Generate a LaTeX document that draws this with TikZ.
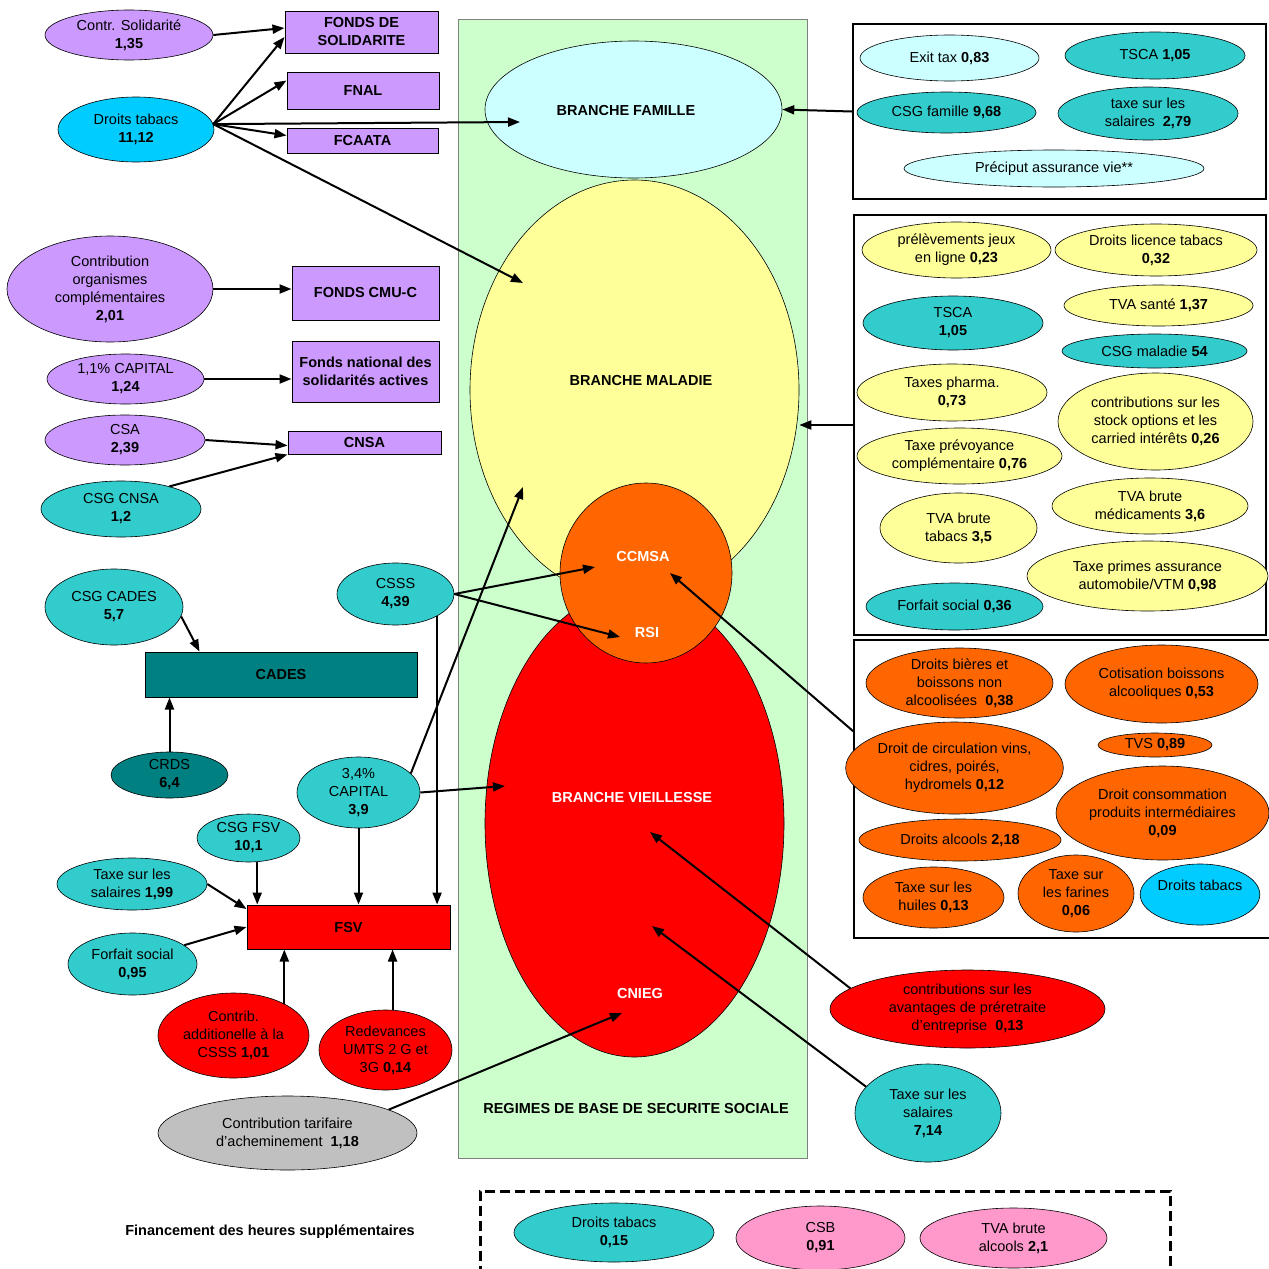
\documentclass[tikz,border=0pt]{standalone}
\usepackage{fontspec}
\setmainfont{Liberation Sans}
\usetikzlibrary{shapes.geometric}
\usetikzlibrary{arrows.meta}
\definecolor{lilas}{HTML}{CC99FF}
\definecolor{ciel}{HTML}{00CCFF}
\definecolor{turq}{HTML}{33CCCC}
\definecolor{sarcelle}{HTML}{008080}
\definecolor{pale}{HTML}{CCFFFF}
\definecolor{jaune}{HTML}{FFFF99}
\definecolor{orng}{HTML}{FF6600}
\definecolor{rouge}{HTML}{FF0000}
\definecolor{gris}{HTML}{C0C0C0}
\definecolor{rose}{HTML}{FF99CC}
\definecolor{vert}{HTML}{CCFFCC}
\begin{document}
\begin{tikzpicture}[x=1pt,y=-1pt,
    every node/.style={font=\fontsize{14.5}{18}\selectfont,align=center,inner sep=0pt},
    ov/.style 2 args={draw,ellipse,line width=0.6pt,minimum width=#1pt,minimum height=#2pt},
    box/.style 2 args={draw,line width=1pt,minimum width=#1pt,minimum height=#2pt,font=\fontsize{14.5}{18}\selectfont\bfseries},
    cadre/.style 2 args={draw,line width=2pt,minimum width=#1pt,minimum height=#2pt},
    br/.style={font=\fontsize{14.5}{18}\selectfont\bfseries},
    arr/.style={-{Triangle[length=12pt,width=9pt]},line width=2pt}]
                \useasboundingbox (0,0) rectangle (1269,1269);

                \node[draw=gray,fill=vert,minimum width=349pt,minimum height=1139pt] (rbss) at (632.5,588.5) {};
                \node[ov={297}{137},fill=pale] (fam) at (633.5,109.5) {};
                \node[ov={329}{420},fill=jaune] (mal) at (634.5,390) {};
                \node[ov={299}{467},fill=rouge] (vie) at (634.5,823.5) {};
                \node[ov={172}{180},fill=orng] (ccm) at (646,573) {};
                \node[br] (famLbl) at (626,111) {BRANCHE FAMILLE};
                \node[br] (malLbl) at (641,381) {BRANCHE MALADIE};
                \node[br,text=white] (ccmLbl) at (643,557) {CCMSA};
                \node[br,text=white] (rsiLbl) at (647,632) {RSI};
                \node[br,text=white] (vieLbl) at (632,797) {BRANCHE VIEILLESSE};
                \node[br,text=white] (cniegLbl) at (640,993) {CNIEG};
                \node[br] (rbssLbl) at (636,1108) {REGIMES DE BASE DE SECURITE SOCIALE};

                \node[ov={168}{50},fill=lilas] (csol) at (129,35) {Contr. Solidarité\\\textbf{1,35}};
                \node[box={153}{42},fill=lilas] (fds) at (361.5,32) {FONDS DE\\SOLIDARITE};
                \node[box={152}{37},fill=lilas] (fnal) at (363,90.5) {FNAL};
                \node[box={151}{25},fill=lilas] (fca) at (362.5,140.5) {FCAATA};
                \node[ov={156}{65},fill=ciel] (dtab) at (136,129.5) {Droits tabacs\\\textbf{11,12}};
                \node[ov={206}{106},fill=lilas] (corg) at (110,289) {Contribution\\organismes\\complémentaires\\\textbf{2,01}};
                \node[box={147}{54},fill=lilas] (cmu) at (365.5,293) {FONDS CMU-C};
                \node[ov={157}{50},fill=lilas] (cap11) at (125.5,379) {1,1\% CAPITAL\\\textbf{1,24}};
                \node[box={147}{61},fill=lilas] (fnsa) at (365.5,371.5) {Fonds national des\\solidarités actives};
                \node[ov={160}{50},fill=lilas] (csa) at (125,440) {CSA\\\textbf{2,39}};
                \node[box={153}{23},fill=lilas] (cnsa) at (364.5,442.5) {CNSA};
                \node[ov={160}{56},fill=turq] (csgcnsa) at (121,509) {CSG CNSA\\\textbf{1,2}};

                \node[ov={138}{76},fill=turq] (csgcad) at (114,607) {CSG CADES\\\textbf{5,7}};
                \node[box={272}{45},fill=sarcelle] (cades) at (281,674.5) {CADES};
                \node[ov={117}{46},fill=sarcelle] (crds) at (169.5,775) {CRDS\\\textbf{6,4}};
                \node[ov={117}{62},fill=turq] (csss) at (395.5,594) {CSSS\\\textbf{4,39}};
                \node[ov={123}{71},fill=turq] (cap34) at (358.5,792.5) {3,4\%\\CAPITAL\\\textbf{3,9}};
                \node[ov={103}{48},fill=turq] (csgfsv) at (248.5,838) {CSG FSV\\\textbf{10,1}};
                \node[ov={150}{52},fill=turq] (tss) at (132,884) {Taxe sur les\\salaires \textbf{1,99}};
                \node[box={203}{44},fill=rouge] (fsv) at (348.5,927) {FSV};
                \node[ov={129}{62},fill=turq] (fs95) at (132.5,964) {Forfait social\\\textbf{0,95}};
                \node[ov={151}{85},fill=rouge] (cadd) at (233.5,1035.5) {Contrib.\\additionelle à la\\CSSS \textbf{1,01}};
                \node[ov={133}{80},fill=rouge] (umts) at (385.5,1050) {Redevances\\UMTS 2 G et\\3G \textbf{0,14}};
                \node[ov={259}{74},fill=gris] (cta) at (287.5,1133) {Contribution tarifaire\\d'acheminement\ \ \textbf{1,18}};

                \node[cadre={413}{175}] (fbox) at (1059.5,111.5) {};
                \node[ov={179}{46},fill=pale] (exit) at (949.5,58) {Exit tax \textbf{0,83}};
                \node[ov={180}{47},fill=turq] (tsca1) at (1155,55.5) {TSCA \textbf{1,05}};
                \node[ov={179}{41},fill=turq] (csgfam) at (946.5,112.5) {CSG famille \textbf{9,68}};
                \node[ov={180}{53},fill=turq] (tsal) at (1148,113.5) {taxe sur les\\salaires\ \ \textbf{2,79}};
                \node[ov={300}{37},fill=pale] (prec) at (1054,168.5) {Préciput assurance vie**};

                \node[cadre={412}{420}] (mbox) at (1060,425) {};
                \node[ov={189}{56},fill=jaune] (jeux) at (956.5,250) {prélèvements jeux\\en ligne \textbf{0,23}};
                \node[ov={202}{52},fill=jaune] (lic) at (1156,250) {Droits licence tabacs\\\textbf{0,32}};
                \node[ov={180}{54},fill=turq] (tsca2) at (953,323) {TSCA\\\textbf{1,05}};
                \node[ov={189}{41},fill=jaune] (tvas) at (1158.5,305.5) {TVA santé \textbf{1,37}};
                \node[ov={185}{34},fill=turq] (csgmal) at (1154.5,351) {CSG maladie \textbf{54}};
                \node[ov={190}{57},fill=jaune] (pharma) at (952,392.5) {Taxes pharma.\\\textbf{0,73}};
                \node[ov={195}{97},fill=jaune] (stock) at (1155.5,421.5) {contributions sur les\\stock options et les\\carried intérêts \textbf{0,26}};
                \node[ov={205}{56},fill=jaune] (prev) at (959.5,456) {Taxe prévoyance\\complémentaire \textbf{0,76}};
                \node[ov={157}{70},fill=jaune] (tvatab) at (958.5,528) {TVA brute\\tabacs \textbf{3,5}};
                \node[ov={196}{56},fill=jaune] (tvamed) at (1150,506) {TVA brute\\médicaments \textbf{3,6}};
                \node[ov={241}{70},fill=jaune] (auto) at (1147.5,576) {Taxe primes assurance\\automobile/VTM \textbf{0,98}};
                \node[ov={177}{47},fill=turq] (fs36) at (954.5,606.5) {Forfait social \textbf{0,36}};

                \node[draw,line width=1.2pt,minimum width=426pt,minimum height=298pt] (obox) at (1067,789) {};
                \node[ov={187}{70},fill=orng] (bieres) at (959.5,683) {Droits bières et\\boissons non\\alcoolisées\ \ \textbf{0,38}};
                \node[ov={193}{78},fill=orng] (cotis) at (1161.5,684) {Cotisation boissons\\alcooliques \textbf{0,53}};
                \node[ov={207}{92},fill=orng] (circ) at (954.5,768) {Droit de circulation vins,\\cidres, poirés,\\hydromels \textbf{0,12}};
                \node[ov={114}{24},fill=orng] (tvs) at (1155,745) {TVS \textbf{0,89}};
                \node[ov={213}{94},fill=orng] (conso) at (1162.5,813) {Droit consommation\\produits intermédiaires\\\textbf{0,09}};
                \node[ov={202}{42},fill=orng] (alcools) at (960,840) {Droits alcools \textbf{2,18}};
                \node[ov={141}{61},fill=orng] (huiles) at (933.5,897.5) {Taxe sur les\\huiles \textbf{0,13}};
                \node[ov={116}{77},fill=orng] (farines) at (1076,893.5) {Taxe sur\\les farines\\\textbf{0,06}};
                \node[ov={114}{61},fill=ciel] (dtab2) at (1200,894.5) {Droits tabacs\\\mbox{}};

                \node[ov={275}{78},fill=rouge] (pre) at (967.5,1009) {contributions sur les\\avantages de préretraite\\d'entreprise\ \ \textbf{0,13}};
                \node[ov={146}{98},fill=turq] (ts714) at (928,1113) {Taxe sur les\\salaires\\\textbf{7,14}};

                \node[draw,line width=3pt,dash pattern=on 10pt off 5pt,minimum width=690pt,minimum height=90pt] (hsbox) at (825,1236) {};
                \node[br] (hsLbl) at (270,1232) {Financement des heures supplémentaires};
                \node[ov={200}{59},fill=turq] (dtab3) at (614,1232.5) {Droits tabacs\\\textbf{0,15}};
                \node[ov={169}{64},fill=rose] (csb) at (820.5,1238) {CSB\\\textbf{0,91}};
                \node[ov={187}{60},fill=rose] (tvaalc) at (1013.5,1238) {TVA brute\\alcools \textbf{2,1}};

                \coordinate (famIn) at (520,122);
                \coordinate (malIn) at (523,283);
                \coordinate (malIn2) at (523,487);
                \coordinate (vieIn) at (505,786);
                \coordinate (ccmIn) at (595,567);
                \coordinate (rsiIn) at (620,637);
                \coordinate (ccmIn2) at (670,573);
                \coordinate (vieIn2) at (650,832);
                \coordinate (vieIn3) at (652,926);
                \coordinate (cniegIn) at (622,1013);

                \draw[arr] (csol.east) -- ([yshift=4pt]fds.west);
                \draw[arr] (dtab.4) -- ([yshift=-5pt]fds.west);
                \draw[arr] (dtab.4) -- ([yshift=10pt]fnal.west);
                \draw[arr] (dtab.4) -- ([yshift=5pt]fca.west);
                \draw[arr] (dtab.4) -- (famIn);
                \draw[arr] (dtab.4) -- (malIn);
                \draw[arr] (corg.east) -- (corg.east -| cmu.west);
                \draw[arr] (cap11.east) -- (cap11.east -| fnsa.west);
                \draw[arr] (csa.east) -- ([yshift=-3pt]cnsa.west);
                \draw[arr] (csgcnsa.25) -- (cnsa.south west);
                \draw[arr] (csgcad.-8) -- ([xshift=55pt]cades.north west);
                \draw[arr] (crds.north) -- (crds.north |- cades.south);
                \draw[arr] (csss.east) -- (ccmIn);
                \draw[arr] (csss.east) -- (rsiIn);
                \draw[arr] (csss.south east) -- (csss.south east |- fsv.north);
                \draw[arr] (cap34.20) -- (malIn2);
                \draw[arr] (cap34.east) -- (vieIn);
                \draw[arr] (cap34.south) -- (cap34.south |- fsv.north);
                \draw[arr] (csgfsv.-70) -- (csgfsv.-70 |- fsv.north);
                \draw[arr] (tss.east) -- (fsv.170);
                \draw[arr] (fs95.20) -- (fsv.west);
                \draw[arr] (cadd.32) -- (cadd.32 |- fsv.south);
                \draw[arr] (umts.80) -- (umts.80 |- fsv.south);
                \draw[arr] (cta.13) -- (cniegIn);

                \draw[arr] (fbox.west) -- (fam.east);
                \draw[arr] (mbox.west) -- (mbox.west -| mal.east);
                \draw[arr] ([yshift=-92pt]obox.north west) -- (ccmIn2);
                \draw[arr] (pre.170) -- (vieIn2);
                \draw[arr] (ts714.157) -- (vieIn3);
            \end{tikzpicture}
\end{document}
